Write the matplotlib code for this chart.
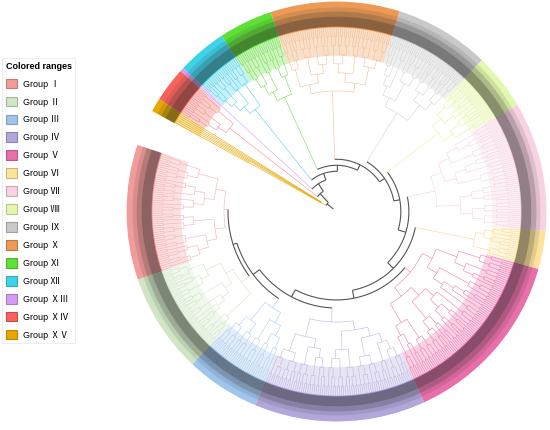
import numpy as np
import matplotlib
matplotlib.use('Agg')
import matplotlib.pyplot as plt
from matplotlib.collections import LineCollection
from matplotlib.patches import Patch
from matplotlib.lines import Line2D
from matplotlib.colors import to_rgb

# ---------------- data ----------------
group_labels = ['Group Ⅰ', 'Group Ⅱ', 'Group Ⅲ', 'Group Ⅳ', 'Group Ⅴ',
                'Group Ⅵ', 'Group Ⅶ', 'Group Ⅷ', 'Group Ⅸ', 'Group Ⅹ',
                'Group Ⅺ', 'Group Ⅻ', 'Group ⅩⅢ', 'Group ⅩⅣ', 'Group ⅩⅤ']
range_colors = ['#f29b9b', '#cfe5c4', '#9fc5ec', '#b2a6da', '#e86fa9',
                '#fde39a', '#f8d2e3', '#e3f8af', '#c9c9c9', '#ec9a55',
                '#5fe036', '#3fd3ea', '#d39bf7', '#f7625c', '#e6a800']
line_colors = ['#f5b0b4', '#cfe6c4', '#a9cdf0', '#bdb5e6', '#f07ab0',
               '#f8da8c', '#f6d2e2', '#e6f5a0', '#d4d4d4', '#f7bd8c',
               '#6edf4c', '#55d2ee', '#cf9ff5', '#f78c8c', '#e8a600']

# angular extent of each coloured range, degrees counter-clockwise from east
range_start = [161.5, 198.9, 226.7, 247.2, 294.7, 344.1, 354.7, 390.6,
               406.2, 432.5, 468.3, 483.2, 496.9, 498.0, 507.7]
range_end = [198.9, 226.7, 247.2, 294.7, 344.1, 354.7, 390.6, 406.2,
             432.5, 468.3, 483.2, 496.9, 498.0, 507.7, 511.4]

# radius of the crown node of every group
crown_radius = [112, 118, 115, 110, 95, 140, 100, 128, 115, 120, 125, 130, 165, 135, 18]

# backbone: groups in the order they split off, and radius of each split
ladder_groups = [14, 13, 12, 11, 10, 9, 8, 7, 6, 5, 4, 3, 2, 1]
ladder_radius = [12, 24, 33, 40, 46, 52, 58, 64, 72, 80, 88, 96, 104, 108]

# topology of every group (unnamed leaves)
tree_I = ("(("
          "(((,),(,)),(((,),),((,),(,)))),"
          "((((,),(,(,))),((,),)),(((,),(,)),((,),(,(,)))))"
          "),("
          "((((,),),(,)),((,),((,),(,)))),"
          "((((,),(,)),((,),)),(((,),(,(,))),(((,),),(,))))"
          "))")
tree_II = ("(("
           "((((,),(,)),((,),)),(((,),(,(,))),((,),(,)))),"
           "((((,),),((,),(,))),(((,),(,)),((,),((,),(,(,))))))"
           "),"
           "(((,),),((,),(,(,))))"
           ")")
tree_III = ("("
            "((((,),(,)),((,),(,))),(((,),),((,),(,)))),"
            "(((,),((,),(,))),(((,),(,(,))),(((,),),(,))))"
            ")")
tree_IV = ("(("
           "(((,),((,),(,))),(((,),(,)),((,),))),"
           "((((,),),((,),(,))),(((,),(,)),((,),(,(,)))))"
           "),("
           "((((,),(,(,))),((,),(,))),(((,),),((,),(,)))),"
           "((((,),((,),(,))),((,),((,),(,)))),((((,),),(,)),(((,),(,)),((,),(,(,))))))"
           "))")
tree_V = ("(("
          "((((,),(,)),((,),(,(,)))),(((,),(,)),((,),(,)))),"
          "(((((,),(,)),((,),)),((,),(,(,)))),((((,),(,(,))),(((,),),(,))),((,),(,))))"
          "),("
          "((((,),(,)),((,),((,),(,(,))))),((,),((,),(,)))),"
          "((((,),(,(,))),((,),(,))),(((,),(,)),((,),)))"
          "))")
tree_VI = "(((,),((,),(,))),((((,),),(,)),((,),(,(,)))))"
tree_VII = ("(("
            "((((,),(,)),((,),)),(((,),),((,),(,)))),"
            "((((,),),(,)),((,),((,),(,))))"
            "),("
            "((((,),(,)),((,),(,))),(((,),(,)),((,),(,(,))))),"
            "(((,),((,),(,))),((((,),),(,)),((,),(,))))"
            "))")
tree_VIII = "((((,),(,)),(((,),),((,),(,)))),(((,),((,),(,))),(((,),),((,),(,)))))"
tree_IX = ("("
           "((((,),(,)),((,),(,(,)))),(((,),(,(,))),(((,),),(,)))),"
           "((((,),((,),(,))),(((,),),(,))),(((,),(,)),((,),((,),(,(,))))))"
           ")")
tree_X = ("(("
          "((((,),(,)),((,),(,))),((,),((,),(,)))),"
          "(((,),(,(,))),((((,),(,)),((,),)),((,),(,))))"
          "),("
          "((((,),(,(,))),((,),(,))),(((,),),((,),(,)))),"
          "((((,),),(,)),((,),))"
          "))")
tree_XI = "((((,),(,)),((,),(,(,)))),((((,),),(,)),(((,),(,)),((,),(,(,))))))"
tree_XII = "((((,),(,)),((,),)),(((,),(,(,))),(((,),(,)),((,),(,(,))))))"
tree_XIII = "(,)"
tree_XIV = "(((,),((,),(,))),(((,),(,)),((,),(,(,)))))"
tree_XV = "(,,,,(,))"
subtrees = [tree_I, tree_II, tree_III, tree_IV, tree_V, tree_VI, tree_VII,
            tree_VIII, tree_IX, tree_X, tree_XI, tree_XII, tree_XIII,
            tree_XIV, tree_XV]

R_TIP = 183.0      # leaves end here, labels start
R_OUT = 209.0      # outer edge of coloured ranges
R_TINT = 155.0     # inner edge of the faint clade tint
BACKBONE = '#555555'


def parse_newick(text):
    pos = 0

    def read():
        nonlocal pos
        if text[pos] == '(':
            pos += 1
            kids = [read()]
            while text[pos] == ',':
                pos += 1
                kids.append(read())
            if text[pos] != ')':
                raise ValueError('bad newick at %d' % pos)
            pos += 1
            return kids
        return []
    tree = read()
    if pos != len(text):
        raise ValueError('trailing text in newick')
    return tree


def n_leaves(t):
    return 1 if not t else sum(n_leaves(k) for k in t)


def height(t):
    return 0 if not t else 1 + max(height(k) for k in t)


def arc(a1, a2, r):
    n = max(2, int(abs(a2 - a1) / 0.5) + 2)
    th = np.radians(np.linspace(a1, a2, n))
    return np.column_stack([th, np.full(n, r)])


def radial(a, r1, r2):
    t = np.radians(a)
    return np.array([[t, r1], [t, r2]])


def place(t, leaf_angles, r_crown, H, segs):
    if not t:
        return leaf_angles.pop(0), R_TIP
    r = R_TIP - (R_TIP - r_crown) * height(t) / H
    kids = [place(k, leaf_angles, r_crown, H, segs) for k in t]
    segs.append(arc(kids[0][0], kids[-1][0], r))
    for a, rk in kids:
        segs.append(radial(a, r, rk))
    return (kids[0][0] + kids[-1][0]) / 2, r


fig = plt.figure(figsize=(5.5, 4.3), dpi=100)
ax = fig.add_axes([0.2291, 0.0186, 0.7655, 0.979], projection='polar')

# coloured ranges
for g in range(len(group_labels)):
    a0, a1 = np.radians(range_start[g]), np.radians(range_end[g])
    ax.bar((a0 + a1) / 2, R_TIP - R_TINT, width=a1 - a0, bottom=R_TINT,
           color=range_colors[g], alpha=0.3, linewidth=0, zorder=1)
    ax.bar((a0 + a1) / 2, R_OUT - R_TIP, width=a1 - a0, bottom=R_TIP,
           color=range_colors[g], linewidth=0, zorder=1)

# leaf label area
full0, full1 = np.radians(range_start[0]), np.radians(range_end[-1])
for r0, r1, alp in [(184, 194, 0.5), (194, 199, 0.3), (199, 203, 0.12)]:
    ax.bar((full0 + full1) / 2, r1 - r0, width=full1 - full0, bottom=r0,
           color='#2b2b2b', alpha=alp, linewidth=0, zorder=2)

# clades
crown_ang = []
group_segs = []
for g, txt in enumerate(subtrees):
    tree = parse_newick(txt)
    n = n_leaves(tree)
    step = (range_end[g] - range_start[g]) / n
    leaf_angles = [range_start[g] + (i + 0.5) * step for i in range(n)]
    segs = []
    a, _ = place(tree, leaf_angles, crown_radius[g], height(tree), segs)
    crown_ang.append(a)
    group_segs.append(segs)

# backbone ladder
back_segs = []
last = len(ladder_groups) - 1
node_ang = [0.0] * len(ladder_groups)
for k in range(last, -1, -1):
    r = ladder_radius[k]
    g = ladder_groups[k]
    if k == last:
        other = crown_ang[0]
        group_segs[0].append(radial(other, r, crown_radius[0]))
    else:
        other = node_ang[k + 1]
        back_segs.append(radial(other, r, ladder_radius[k + 1]))
    back_segs.append(arc(crown_ang[g], other, r))
    group_segs[g].append(radial(crown_ang[g], r, crown_radius[g]))
    node_ang[k] = (crown_ang[g] + other) / 2
back_segs.append(radial(node_ang[0], 4, ladder_radius[0]))

for g, segs in enumerate(group_segs):
    ax.add_collection(LineCollection(segs, colors=line_colors[g],
                                     linewidths=0.4, zorder=3),
                      autolim=False)
ax.add_collection(LineCollection(back_segs, colors=BACKBONE,
                                 linewidths=0.8, zorder=4), autolim=False)

ax.set_xlim(0, 2 * np.pi)
ax.set_ylim(0, 209.5)
ax.set_axis_off()

# legend
handles = [Patch(facecolor=c, edgecolor=tuple(v * 0.8 for v in to_rgb(c)),
                 linewidth=0.8) for c in range_colors]
leg = fig.legend(handles, group_labels, loc='upper left',
                 bbox_to_anchor=(0.0036, 0.865), borderaxespad=0,
                 title='Colored ranges', alignment='left',
                 prop={'family': ['Liberation Sans', 'Noto Sans CJK JP', 'DejaVu Sans'],
                       'size': 6.5},
                 title_fontproperties={'family': 'Liberation Sans',
                                       'weight': 'bold', 'size': 6.5},
                 frameon=True, fancybox=False, edgecolor='#eeeeee',
                 framealpha=1, handlelength=1.28, handleheight=1.28,
                 labelspacing=0.89, handletextpad=0.66, borderpad=0.4)
leg.get_frame().set_linewidth(0.8)
fig.add_artist(Line2D([5 / 550, 72 / 550], [1 - 75 / 430, 1 - 75 / 430],
                      transform=fig.transFigure, color='#bbbbbb', lw=1.2))

fig.savefig('out.png', dpi=100)
